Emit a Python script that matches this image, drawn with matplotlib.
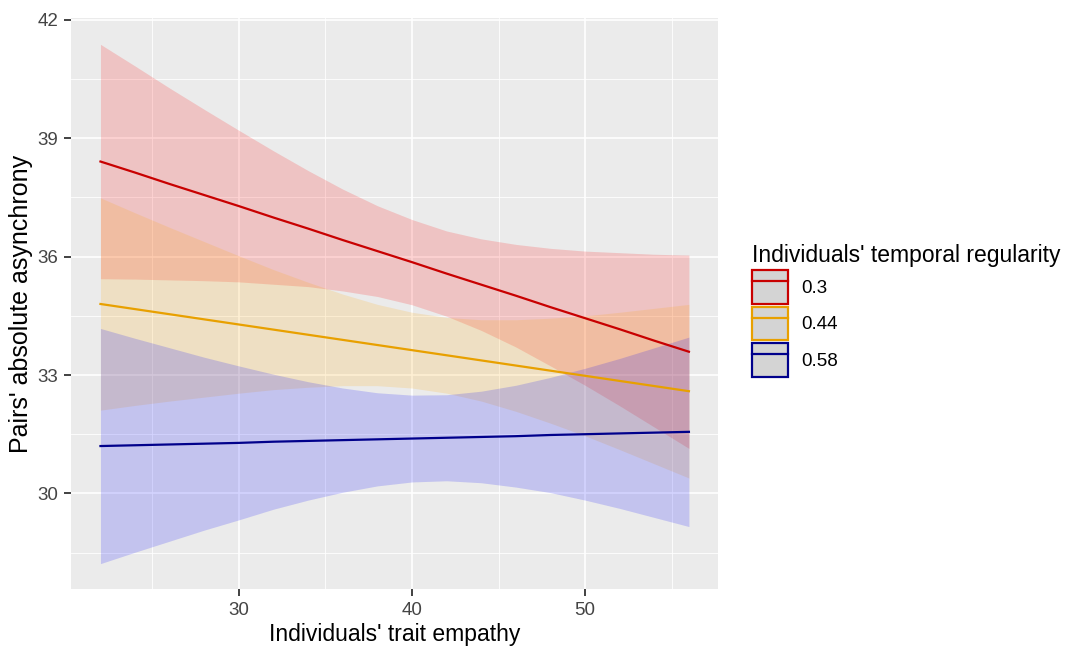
import matplotlib
matplotlib.use("Agg")
import matplotlib.pyplot as plt
from matplotlib.patches import Patch
from matplotlib.lines import Line2D

plt.rcParams['font.family'] = ['Liberation Sans', 'DejaVu Sans']

# ---- data ----
empathy = [22, 24, 26, 28, 30, 32, 34, 36, 38, 40, 42, 44, 46, 48, 50, 52, 54, 56]

red_fit = [38.41, 38.13, 37.84, 37.56, 37.28, 36.99, 36.71, 36.42, 36.14,
           35.86, 35.57, 35.29, 35.01, 34.72, 34.44, 34.16, 33.87, 33.59]
red_hi = [41.38, 40.83, 40.27, 39.73, 39.20, 38.68, 38.18, 37.71, 37.29,
          36.94, 36.65, 36.45, 36.31, 36.21, 36.14, 36.10, 36.06, 36.04]
red_lo = [35.44, 35.43, 35.41, 35.39, 35.36, 35.30, 35.24, 35.13, 34.99,
          34.78, 34.49, 34.13, 33.71, 33.23, 32.74, 32.22, 31.68, 31.14]

orange_fit = [34.80, 34.67, 34.54, 34.41, 34.28, 34.15, 34.02, 33.89, 33.76,
              33.63, 33.50, 33.37, 33.24, 33.11, 32.98, 32.85, 32.72, 32.59]
orange_hi = [37.49, 37.11, 36.74, 36.38, 36.02, 35.67, 35.35, 35.05, 34.79,
             34.59, 34.46, 34.40, 34.40, 34.44, 34.50, 34.59, 34.69, 34.79]
orange_lo = [32.11, 32.23, 32.34, 32.44, 32.54, 32.63, 32.69, 32.73, 32.73,
             32.67, 32.54, 32.34, 32.08, 31.78, 31.46, 31.11, 30.75, 30.39]

blue_fit = [31.20, 31.22, 31.24, 31.26, 31.28, 31.31, 31.33, 31.35, 31.37,
            31.39, 31.41, 31.43, 31.45, 31.48, 31.50, 31.52, 31.54, 31.56]
blue_hi = [34.18, 33.93, 33.69, 33.45, 33.23, 33.02, 32.83, 32.67, 32.55,
           32.49, 32.50, 32.59, 32.74, 32.94, 33.17, 33.42, 33.69, 33.96]
blue_lo = [28.22, 28.51, 28.79, 29.07, 29.33, 29.60, 29.83, 30.03, 30.19,
           30.29, 30.32, 30.27, 30.16, 30.02, 29.83, 29.62, 29.39, 29.16]

levels = ["0.3", "0.44", "0.58"]
line_colors = ["#C80000", "#E8A000", "#00008B"]
fill_colors = ["#FF0000", "#FFA500", "#0000FF"]

x_ticks = [30, 40, 50]
y_ticks = [30, 33, 36, 39, 42]

# ---- figure ----
fig = plt.figure(figsize=(10.65, 6.48), dpi=100)
ax = fig.add_axes([0.0667, 0.0906, 0.6078, 0.8812])
ax.set_facecolor("#EBEBEB")

fits = [red_fit, orange_fit, blue_fit]
his = [red_hi, orange_hi, blue_hi]
los = [red_lo, orange_lo, blue_lo]

for lo, hi, fc in zip(los, his, fill_colors):
    ax.fill_between(empathy, lo, hi, color=fc, alpha=0.17, linewidth=0, zorder=2)
for fit, lc in zip(fits, line_colors):
    ax.plot(empathy, fit, color=lc, lw=1.6, zorder=3)

ax.set_xlim(20.3, 57.7)
ax.set_ylim(27.57, 42.04)
ax.set_xticks(x_ticks)
ax.set_yticks(y_ticks)
ax.set_xticks([25, 35, 45, 55], minor=True)
ax.set_yticks([28.5, 31.5, 34.5, 37.5, 40.5], minor=True)
ax.grid(which="major", color="white", lw=1.2, zorder=0)
ax.grid(which="minor", color="white", lw=0.6, zorder=0)
ax.set_axisbelow(True)
for s in ax.spines.values():
    s.set_visible(False)
ax.tick_params(which="major", length=5, width=1.3, color="#333333",
               labelsize=13.5, labelcolor="#444444", pad=4)
ax.tick_params(which="minor", length=0)

ax.set_xlabel("Individuals' trait empathy", fontsize=16.5, color="black", labelpad=3)
ax.set_ylabel("Pairs' absolute asynchrony", fontsize=18, color="black")
ax.yaxis.set_label_coords(-0.059, 0.5)

handles = []
for lc in line_colors:
    p = Patch(facecolor="#D4D4D4", edgecolor=lc, linewidth=1.6)
    l = Line2D([0], [0], color=lc, lw=1.6)
    handles.append((p, l))

leg = fig.legend(handles, levels, title="Individuals' temporal regularity",
                 loc="upper left", bbox_to_anchor=(0.7065, 0.623),
                 frameon=False, fontsize=13.5, title_fontsize=16.5,
                 handlelength=1.92, handleheight=2.41, handletextpad=0.69,
                 labelspacing=0.14, borderaxespad=0, borderpad=0,
                 alignment="left")

fig.savefig("out.png", dpi=100)
